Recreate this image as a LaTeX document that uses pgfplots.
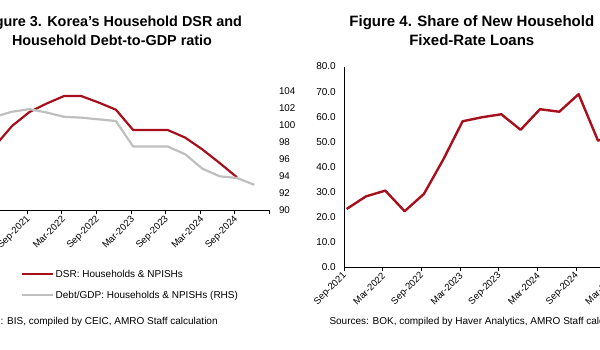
\documentclass[border=0pt]{standalone}
\usepackage{pgfplots}
\pgfplotsset{compat=1.18}
\usepackage{fontspec}
\setmainfont{Liberation Sans}
\definecolor{dsrred}{RGB}{166,16,28}
\definecolor{debtgray}{RGB}{191,191,191}
\begin{document}
\begin{tikzpicture}
% ---------------- Left chart: DSR (left axis, off-picture) ----------------
\begin{axis}[
  at={(-41.9pt,139.7pt)}, anchor=south west, scale only axis,
  width=311.4pt, height=119pt,
  xmin=-4, xmax=14, ymin=12, ymax=15.5,
  axis x line*=bottom, axis y line*=left,
  axis line style={-, black, line width=0.9pt},
  xtick={-4,-2,...,14},
  xticklabels={Sep-2020,Mar-2021,Sep-2021,Mar-2022,Sep-2022,Mar-2023,Sep-2023,Mar-2024,Sep-2024,{}},
  x tick label style={rotate=45, anchor=east, xshift=2pt, yshift=-3.5pt, font=\fontsize{9.5}{11}\selectfont},
  xtick style={black, line width=0.9pt},
  tick align=outside, major tick length=4pt,
  ytick={12,12.5,...,15.5}, ytick style={draw=none},
  yticklabel style={/pgf/number format/fixed, /pgf/number format/fixed zerofill, /pgf/number format/precision=1, font=\fontsize{9.5}{11}\selectfont},
  /pgf/number format/assume math mode=true,
]
\addplot[dsrred, line width=2.2pt, line join=round] coordinates {
(-1.88,13.89) (-0.88,14.48) (0.12,14.89) (1.12,15.14) (2.12,15.36) (3.12,15.36)
(4.12,15.17) (5.12,14.96) (6.12,14.36) (7.12,14.36) (8.12,14.36) (9.12,14.14)
(10.12,13.79) (11.12,13.39) (12.12,12.97)
};
\end{axis}
% ---------------- Left chart: Debt/GDP (right axis) ----------------
\begin{axis}[
  at={(-41.9pt,139.7pt)}, anchor=south west, scale only axis,
  width=311.4pt, height=119pt,
  xmin=-4, xmax=14, ymin=90, ymax=104,
  axis x line=none, axis y line*=right,
  y axis line style={draw=none},
  ytick={90,92,...,104}, ytick style={draw=none},
  yticklabel style={xshift=6pt, font=\fontsize{9.8}{11}\selectfont},
  /pgf/number format/assume math mode=true,
]
\addplot[debtgray, line width=2.2pt, line join=round] coordinates {
(-1.88,101.0) (-0.88,101.6) (0.12,101.9) (1.12,101.5) (2.12,101.0) (3.12,100.9)
(4.12,100.7) (5.12,100.5) (6.12,97.5) (7.12,97.5) (8.12,97.5) (9.12,96.6)
(10.12,94.9) (11.12,94.0) (12.12,93.8) (13.12,93.0)
};
\end{axis}
% ---------------- Right chart ----------------
\begin{axis}[
  at={(344.3pt,82.5pt)}, anchor=south west, scale only axis,
  width=290pt, height=201pt,
  xmin=0, xmax=15, ymin=0, ymax=80,
  axis x line*=bottom, axis y line*=left,
  axis line style={-, black, line width=1pt},
  xtick={0,2,...,14},
  xticklabels={Sep-2021,Mar-2022,Sep-2022,Mar-2023,Sep-2023,Mar-2024,Sep-2024,Mar-2025},
  x tick label style={rotate=45, anchor=east, xshift=2pt, yshift=-2.5pt, font=\fontsize{9.5}{11}\selectfont},
  xtick style={black, line width=1pt},
  tick align=outside, major tick length=4pt,
  ytick={0,10,...,80}, ytick style={draw=none},
  yticklabel style={/pgf/number format/fixed, /pgf/number format/fixed zerofill, /pgf/number format/precision=1, xshift=-1pt, font=\fontsize{10}{12}\selectfont},
  /pgf/number format/assume math mode=true,
]
\addplot[dsrred, line width=2.4pt, line join=round] coordinates {
(0.12,23.3) (1.12,28.3) (2.12,30.6) (3.12,22.4) (4.12,29.3) (5.12,43.0)
(6.12,58.2) (7.12,59.8) (8.12,61.0) (9.12,54.8) (10.12,63.0) (11.12,62.0)
(12.12,69.0) (13.12,50.5) (14.12,53.0)
};
\end{axis}
% ---------------- Titles ----------------
\begin{scope}[font=\fontsize{14.4}{18}\selectfont\bfseries]
\node[anchor=base, inner sep=0] at (112pt,323.3pt) {Figure 3. Korea’s Household DSR and};
\node[anchor=base, inner sep=0] at (112pt,304pt) {Household Debt-to-GDP ratio};
\end{scope}
\begin{scope}[font=\fontsize{15}{18}\selectfont\bfseries]
\node[anchor=base, inner sep=0] at (471.8pt,323.3pt) {Figure 4. Share of New Household};
\node[anchor=base, inner sep=0] at (471.8pt,304pt) {Fixed-Rate Loans};
\end{scope}
% ---------------- Legend (left chart) ----------------
\begin{scope}[font=\fontsize{10}{12}\selectfont]
\draw[dsrred, line width=2.2pt] (22pt,75.7pt) -- (53pt,75.7pt);
\node[anchor=base west, inner sep=0] at (55.5pt,72.1pt) {DSR: Households \& NPISHs};
\draw[debtgray, line width=2.2pt] (22pt,55pt) -- (53pt,55pt);
\node[anchor=base west, inner sep=0] at (55.5pt,51.4pt) {Debt/GDP: Households \& NPISHs (RHS)};
% ---------------- Sources ----------------
\node[anchor=base east, inner sep=0] at (0.5pt,25pt) {Sources};
\node[anchor=base west, inner sep=0] at (0.5pt,25pt) {: BIS, compiled by CEIC, AMRO Staff calculation};
\node[anchor=base west, inner sep=0] at (329.3pt,25pt) {Sources: BOK, compiled by Haver Analytics, AMRO Staff calculation};
\end{scope}
\pgfresetboundingbox
\path[use as bounding box] (0pt,0pt) rectangle (600pt,350pt);
\end{tikzpicture}
\end{document}
